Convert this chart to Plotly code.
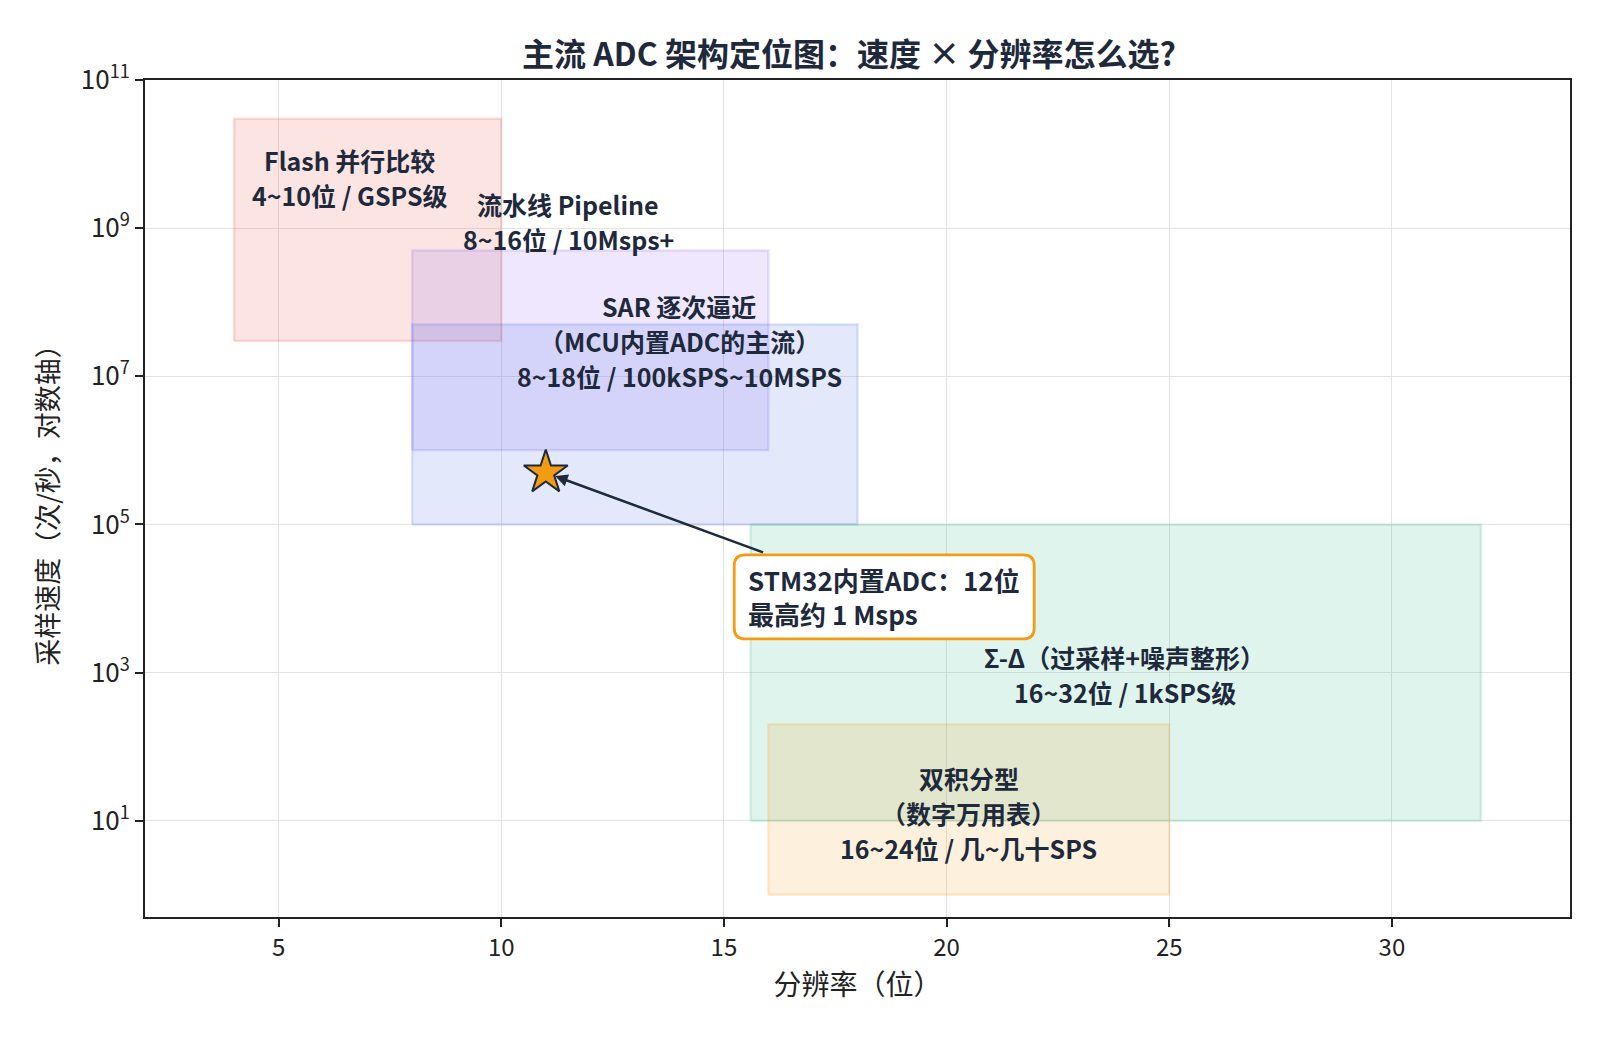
import plotly.graph_objects as go
import numpy as np

# ---- data ----
arch_names = ["Flash", "Pipeline", "SAR", "Sigma-Delta", "Dual-slope"]
bits_lo = [4, 8, 8, 15.6, 16]
bits_hi = [10, 16, 18, 32, 25]
sps_lo = [3e7, 1e6, 1e5, 10, 1]
sps_hi = [3e10, 5e8, 5e7, 1e5, 200]
rect_rgb = [(231, 76, 60), (139, 92, 246), (65, 105, 225), (46, 184, 140), (243, 156, 18)]

label_texts = [
    "Flash 并行比较<br>4~10位 / GSPS级",
    "流水线 Pipeline<br>8~16位 / 10Msps+",
    "SAR 逐次逼近<br>（MCU内置ADC的主流）<br>8~18位 / 100kSPS~10MSPS",
    "Σ-Δ（过采样+噪声整形）<br>16~32位 / 1kSPS级",
    "双积分型<br>（数字万用表）<br>16~24位 / 几~几十SPS",
]
label_x = [6.6, 11.5, 14.0, 24.0, 20.5]
label_y = [4.8e9, 1.23e9, 3e7, 9.3e2, 12.9]

stm32_bits = [11]
stm32_sps = [5e5]
stm32_note = "STM32内置ADC：12位<br>最高约 1 Msps"
note_x = 18.6
note_y = 1.05e4

x_ticks = [5, 10, 15, 20, 25, 30]
y_tick_exp = [1, 3, 5, 7, 9, 11]

NAVY = "#1e293b"
ORANGE = "#f39c12"
FONT = "Noto Sans CJK SC"
LINE_GAP = 35

fig = go.Figure()

for i in range(len(arch_names)):
    r, g, b = rect_rgb[i]
    fig.add_trace(go.Scatter(
        x=[bits_lo[i], bits_hi[i], bits_hi[i], bits_lo[i], bits_lo[i]],
        y=[sps_lo[i], sps_lo[i], sps_hi[i], sps_hi[i], sps_lo[i]],
        mode="lines", fill="toself",
        fillcolor=f"rgba({r},{g},{b},0.15)",
        line=dict(color=f"rgba({r},{g},{b},0.18)", width=2.5),
        hoverinfo="skip", showlegend=False,
    ))

# region labels, one annotation per line for matplotlib-like line spacing
for txt, lx, ly in zip(label_texts, label_x, label_y):
    lines = txt.split("<br>")
    n = len(lines)
    for k, line in enumerate(lines):
        fig.add_annotation(
            x=lx, y=np.log10(ly), xref="x", yref="y",
            text=f"<b>{line}</b>", showarrow=False,
            xanchor="center", yanchor="middle",
            yshift=((n - 1) / 2 - k) * LINE_GAP,
            font=dict(family=FONT, size=25, color=NAVY),
        )

fig.add_trace(go.Scatter(
    x=stm32_bits, y=stm32_sps, mode="markers",
    marker=dict(symbol="star", size=33, color=ORANGE,
                line=dict(color=NAVY, width=2)),
    hoverinfo="skip", showlegend=False,
))

# rounded callout box (pixel-sized, anchored at the note position)
W, H, R = 300, 84, 11
hw, hh = W / 2, H / 2
box_path = (
    f"M {-hw + R},{-hh} L {hw - R},{-hh} Q {hw},{-hh} {hw},{-hh + R} "
    f"L {hw},{hh - R} Q {hw},{hh} {hw - R},{hh} "
    f"L {-hw + R},{hh} Q {-hw},{hh} {-hw},{hh - R} "
    f"L {-hw},{-hh + R} Q {-hw},{-hh} {-hw + R},{-hh} Z"
)
fig.add_shape(
    type="path", path=box_path,
    xref="x", yref="y", xsizemode="pixel", ysizemode="pixel",
    xanchor=note_x, yanchor=note_y,
    fillcolor="white", line=dict(color=ORANGE, width=2.8), layer="above",
)

fig.add_annotation(
    x=stm32_bits[0], y=np.log10(stm32_sps[0]), xref="x", yref="y",
    ax=note_x, ay=np.log10(note_y), axref="x", ayref="y",
    text="<b>" + stm32_note + "</b>", align="left",
    font=dict(family=FONT, size=26, color=NAVY),
    showarrow=True, arrowhead=2, arrowsize=1.0, arrowwidth=2.5,
    arrowcolor=NAVY, standoff=10,
    borderwidth=0, borderpad=9, bgcolor="rgba(0,0,0,0)",
)

fig.update_layout(
    width=1609, height=1037,
    margin=dict(l=137, r=47, t=72, b=128),
    paper_bgcolor="white", plot_bgcolor="white",
    font=dict(family=FONT, color="#222222"),
    title=dict(text="<b>主流 ADC 架构定位图：速度 × 分辨率怎么选?</b>",
               x=0.494, xref="paper", xanchor="center",
               y=1 - 47 / 1037, yref="container", yanchor="middle",
               font=dict(family=FONT, size=32, color=NAVY)),
)

fig.update_xaxes(
    range=[2, 34], tickvals=x_ticks,
    ticks="outside", ticklen=8, tickwidth=1.5, tickcolor="#222",
    tickfont=dict(family=FONT, size=24, color="#222"),
    showline=True, linecolor="#222", linewidth=1.8, mirror=True,
    showgrid=True, gridcolor="#e3e3e3", gridwidth=1.3, zeroline=False,
    title=dict(text="分辨率（位）", font=dict(family=FONT, size=28, color="#222"), standoff=10),
)
fig.update_yaxes(
    type="log", range=[-0.3, 11],
    tickvals=[10 ** e for e in y_tick_exp],
    ticktext=[f"10<sup>{e}</sup>" for e in y_tick_exp],
    ticks="outside", ticklen=8, tickwidth=1.5, tickcolor="#222",
    tickfont=dict(family=FONT, size=26, color="#222"),
    showline=True, linecolor="#222", linewidth=1.8, mirror=True,
    showgrid=True, gridcolor="#e3e3e3", gridwidth=1.3, zeroline=False,
    title=dict(text="采样速度（次/秒，对数轴）", font=dict(family=FONT, size=27, color="#222"), standoff=14),
)

fig.write_html("out.html")
